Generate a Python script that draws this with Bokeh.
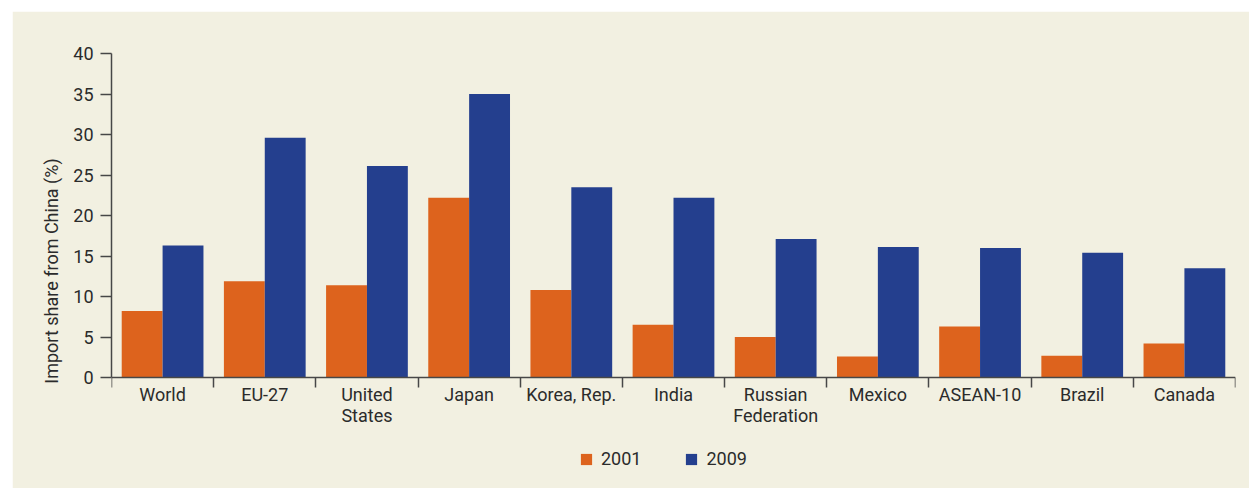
from bokeh.plotting import figure
from bokeh.models import Range1d, FixedTicker, Legend, LegendItem, ColumnDataSource
from bokeh.embed import file_html
from bokeh.resources import INLINE

categories = ["World", "EU-27", "United\nStates", "Japan", "Korea, Rep.", "India",
              "Russian\nFederation", "Mexico", "ASEAN-10", "Brazil", "Canada"]
share_2001 = [8.2, 11.9, 11.4, 22.2, 10.8, 6.5, 5.0, 2.6, 6.3, 2.7, 4.2]
share_2009 = [16.3, 29.6, 26.1, 35.0, 23.5, 22.2, 17.1, 16.1, 16.0, 15.4, 13.5]
y_ticks = [0, 5, 10, 15, 20, 25, 30, 35, 40]

BG = "#F2F0E1"
ORANGE = "#DD631D"
BLUE = "#243F8E"
TXT = "#2b2b2b"
AX = "#474747"
FONT = "Roboto"

n = len(categories)
centers = [i + 0.5 for i in range(n)]
bar_w = 0.4

src = ColumnDataSource(dict(
    x1=[c - bar_w / 2 for c in centers],
    x2=[c + bar_w / 2 for c in centers],
    v1=share_2001,
    v2=share_2009,
))

# frame reaches the bottom edge; the x axis sits at y = 0 inside it
p = figure(frame_width=1124, frame_height=435, output_backend="svg", toolbar_location=None,
           x_range=Range1d(0, n), y_range=Range1d(-13.7, 40),
           min_border_left=99, min_border_right=14, min_border_top=42, min_border_bottom=0)
p.margin = (11, 0, 0, 12)
p.background_fill_color = BG
p.border_fill_color = BG
p.outline_line_color = BG
p.outline_line_width = 2
p.grid.visible = False

r1 = p.vbar(x="x1", top="v1", bottom=0, width=bar_w, source=src, fill_color=ORANGE, line_color=None)
r2 = p.vbar(x="x2", top="v2", bottom=0, width=bar_w, source=src, fill_color=BLUE, line_color=None)

# x axis: labels at category centres, ticks at category boundaries
xa = p.xaxis[0]
xa.fixed_location = 0
xa.ticker = FixedTicker(ticks=centers, minor_ticks=list(range(n + 1)))
xa.major_label_overrides = {c: lab for c, lab in zip(centers, categories)}
xa.major_tick_line_color = None
xa.major_tick_out = 10
xa.major_tick_in = 0
xa.minor_tick_out = 10
xa.minor_tick_in = 0
xa.minor_tick_line_color = AX
xa.minor_tick_line_width = 1.5
xa.axis_line_color = AX
xa.axis_line_width = 1.5
xa.major_label_standoff = -4
xa.major_label_text_font = FONT
xa.major_label_text_font_size = "18px"
xa.major_label_text_color = TXT
xa.major_label_text_line_height = 1.0

ya = p.yaxis[0]
ya.bounds = (0, 40)
ya.ticker = FixedTicker(ticks=y_ticks)
ya.minor_tick_line_color = None
ya.major_tick_out = 11
ya.major_tick_in = 0
ya.major_tick_line_color = AX
ya.major_tick_line_width = 1.5
ya.axis_line_color = AX
ya.axis_line_width = 1.5
ya.major_label_standoff = 7
ya.major_label_text_font = FONT
ya.major_label_text_font_size = "18px"
ya.major_label_text_color = TXT
ya.axis_label = "Import share from China (%)"
ya.axis_label_text_font = FONT
ya.axis_label_text_font_size = "18px"
ya.axis_label_text_font_style = "normal"
ya.axis_label_text_color = TXT
ya.axis_label_standoff = 8

legend = Legend(items=[LegendItem(label="2001", renderers=[r1]),
                       LegendItem(label="2009", renderers=[r2])],
                orientation="horizontal", location=(468, 19),
                glyph_width=14, glyph_height=14, label_standoff=8, spacing=43,
                padding=0, margin=0, border_line_color=None, background_fill_alpha=0,
                label_text_font=FONT, label_text_font_size="18px", label_text_color=TXT)
p.add_layout(legend)

open("out.html", "w").write(file_html(p, INLINE))
